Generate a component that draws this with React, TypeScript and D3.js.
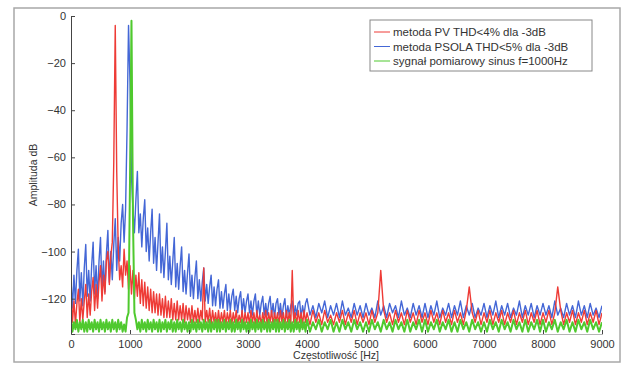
import * as d3 from 'd3';
import React, { useEffect, useRef } from 'react';

// frequency grid: 25 Hz steps up to 4 kHz, then 50 Hz steps
const freqLow = d3.range(0, 4000, 25);
const freqHigh = d3.range(4000, 9001, 50);

const yTicks = [0, -20, -40, -60, -80, -100, -120];
const xTicks = [0, 1000, 2000, 3000, 4000, 5000, 6000, 7000, 8000, 9000];

const legendLabels = [
    'metoda PV THD<4% dla -3dB',
    'metoda PSOLA THD<5% dla -3dB',
    'sygnał pomiarowy sinus f=1000Hz',
];

// metoda PV (red), 0..3975 Hz
const pvLow = [
    -118, -130, -121, -131, -122, -116, -130, -120, -129, -121, -114, -128, -118, -127, -117, -111, -125, -114, -124, -113,
    -106, -121, -110, -118, -104, -100, -114, -102, -96, -62, -4, -66, -98, -112, -106, -115, -99, -110, -104, -116,
    -106, -118, -108, -120, -110, -119, -109, -122, -112, -123, -113, -124, -115, -125, -116, -126, -117, -126, -118, -127,
    -118, -127, -120, -128, -119, -128, -121, -128, -120, -129, -122, -129, -121, -129, -123, -129, -122, -130, -123, -129,
    -124, -130, -123, -130, -125, -130, -124, -130, -125, -129, -107, -130, -125, -130, -124, -131, -125, -130, -126, -131,
    -125, -131, -126, -130, -125, -131, -126, -130, -125, -131, -126, -130, -125, -131, -127, -130, -125, -131, -126, -130,
    -126, -131, -125, -130, -126, -131, -125, -130, -127, -131, -126, -130, -125, -131, -126, -130, -125, -131, -126, -130,
    -126, -131, -125, -130, -126, -131, -125, -130, -126, -131, -108, -130, -126, -131, -125, -130, -126, -131, -125, -130,
];
// metoda PV (red), 4000..9000 Hz
const pvHigh = [
    -126, -131, -125, -130, -126, -131, -125, -130, -127, -131, -126, -130, -125, -131, -126, -130, -125, -131, -126, -130,
    -126, -131, -125, -130, -126, -108, -125, -130, -126, -131, -125, -130, -126, -131, -125, -130, -126, -131, -125, -130,
    -126, -131, -125, -130, -126, -131, -125, -130, -126, -131, -125, -130, -126, -131, -125, -115, -126, -130, -125, -131,
    -126, -130, -125, -131, -126, -130, -125, -131, -126, -130, -125, -131, -126, -130, -125, -131, -126, -130, -125, -131,
    -126, -130, -125, -131, -126, -115, -125, -131, -126, -130, -125, -131, -126, -130, -125, -131, -126, -130, -125, -131,
    -126,
];

// metoda PSOLA (blue), 0..3975 Hz
const psolaLow = [
    -112, -124, -110, -122, -108, -99, -121, -109, -123, -107, -97, -119, -108, -121, -106, -96, -118, -106, -120, -104,
    -94, -116, -104, -117, -101, -91, -113, -100, -112, -97, -86, -108, -94, -104, -88, -80, -96, -82, -48, -4,
    -28, -68, -82, -92, -78, -66, -92, -84, -98, -86, -78, -100, -90, -104, -92, -82, -105, -94, -108, -96,
    -84, -109, -98, -111, -100, -88, -112, -102, -114, -104, -94, -115, -105, -116, -106, -98, -117, -108, -118, -109,
    -101, -119, -110, -120, -111, -104, -120, -112, -121, -113, -107, -121, -114, -122, -115, -110, -123, -115, -123, -116,
    -112, -124, -117, -124, -118, -114, -125, -118, -125, -119, -116, -125, -119, -126, -120, -117, -126, -120, -126, -121,
    -118, -126, -121, -127, -121, -118, -127, -121, -127, -122, -119, -127, -122, -127, -122, -119, -127, -122, -128, -122,
    -120, -127, -122, -128, -123, -120, -128, -123, -127, -123, -121, -128, -123, -127, -122, -121, -128, -123, -127, -122,
];
// metoda PSOLA (blue), 4000..9000 Hz
const psolaHigh = [
    -120, -127, -123, -128, -122, -126, -121, -128, -123, -127, -122, -128, -121, -127, -124, -128, -122, -127, -123, -128,
    -122, -127, -124, -128, -121, -127, -123, -128, -122, -126, -123, -128, -121, -127, -124, -128, -122, -127, -123, -128,
    -122, -128, -123, -127, -121, -128, -124, -127, -122, -128, -123, -127, -121, -128, -123, -127, -122, -128, -124, -127,
    -122, -128, -123, -127, -121, -128, -123, -127, -122, -128, -124, -127, -121, -128, -123, -127, -122, -128, -123, -127,
    -122, -127, -123, -128, -121, -127, -124, -128, -122, -127, -123, -128, -121, -127, -123, -128, -122, -127, -124, -128,
    -123,
];

// sygnał pomiarowy (green), 0..3975 Hz
const sinusLow = [
    -129, -134, -130, -133, -129, -134, -130, -133, -129, -134, -130, -134, -129, -133, -130, -134, -129, -133, -130, -134,
    -129, -133, -130, -134, -129, -133, -130, -134, -129, -133, -130, -134, -129, -133, -130, -134, -131, -134, -128, -126,
    -70, -2, -85, -126, -129, -133, -130, -134, -129, -133, -130, -134, -129, -133, -130, -134, -129, -133, -130, -134,
    -129, -134, -130, -133, -129, -134, -130, -133, -129, -134, -130, -134, -129, -133, -130, -134, -129, -133, -130, -134,
    -130, -134, -129, -133, -130, -134, -129, -133, -130, -134, -129, -133, -130, -134, -129, -134, -130, -133, -129, -134,
    -129, -134, -130, -133, -129, -134, -130, -133, -129, -134, -130, -134, -129, -133, -130, -134, -129, -133, -130, -134,
    -130, -134, -129, -133, -130, -134, -129, -133, -130, -134, -129, -133, -130, -134, -129, -134, -130, -133, -129, -134,
    -129, -134, -130, -133, -129, -134, -130, -133, -129, -134, -130, -134, -129, -133, -130, -134, -129, -133, -130, -134,
];
// sygnał pomiarowy (green), 4000..9000 Hz
const sinusHigh = [
    -129, -134, -130, -133, -129, -134, -130, -133, -129, -134, -130, -134, -129, -133, -130, -134, -129, -133, -130, -134,
    -130, -134, -129, -133, -130, -134, -129, -133, -130, -134, -129, -133, -130, -134, -129, -134, -130, -133, -129, -134,
    -129, -134, -130, -133, -129, -134, -130, -133, -129, -134, -130, -134, -129, -133, -130, -134, -129, -133, -130, -134,
    -130, -134, -129, -133, -130, -134, -129, -133, -130, -134, -129, -133, -130, -134, -129, -134, -130, -133, -129, -134,
    -129, -134, -130, -133, -129, -134, -130, -133, -129, -134, -130, -134, -129, -133, -130, -134, -129, -133, -130, -134,
    -130,
];

const colors = ['#ee3b36', '#4467d6', '#4fc92e'];
const widths = [1.4, 1.4, 2];

const W = 624;
const H = 365;

const App = () => {
    const ref = useRef<SVGSVGElement>(null);

    useEffect(() => {
        const freqs = [...freqLow, ...freqHigh];
        const series = [
            [...pvLow, ...pvHigh],
            [...psolaLow, ...psolaHigh],
            [...sinusLow, ...sinusHigh],
        ];

        const left = 71, right = 602, top = 16, bottom = 334;
        const x = d3.scaleLinear().domain([0, 9000]).range([left, right]);
        const y = d3.scaleLinear().domain([-135, 0]).range([bottom, top]);

        const svg = d3.select(ref.current);
        svg.selectAll('*').remove();

        // outer frame (scan edge)
        svg.append('rect')
            .attr('x', 14).attr('y', 8)
            .attr('width', 606).attr('height', 354)
            .attr('fill', '#fff')
            .attr('stroke', '#a8a8a8')
            .attr('stroke-width', 1.5);

        svg.append('clipPath').attr('id', 'plot-clip')
            .append('rect')
            .attr('x', left).attr('y', top - 2)
            .attr('width', right - left).attr('height', bottom - top + 2);

        const line = d3.line<number>()
            .x((d, i) => x(freqs[i]))
            .y(d => y(d));

        // draw order: PSOLA, PV, then the sine on top
        const order = [1, 0, 2];
        const g = svg.append('g').attr('clip-path', 'url(#plot-clip)');
        order.forEach(k => {
            const vals = series[k].slice(0, freqs.length);
            g.append('path')
                .attr('d', line(vals))
                .attr('fill', 'none')
                .attr('stroke', colors[k])
                .attr('stroke-width', widths[k])
                .attr('stroke-linejoin', 'round');
        });

        // axes
        const axisColor = '#444';
        const yAxis = svg.append('g').attr('transform', `translate(${left},0)`)
            .call(d3.axisLeft(y).tickValues(yTicks).tickSize(-4).tickPadding(5).tickFormat(d3.format('d')));
        const xAxis = svg.append('g').attr('transform', `translate(0,${bottom})`)
            .call(d3.axisBottom(x).tickValues(xTicks).tickSize(-4).tickPadding(6).tickFormat(d3.format('d')));

        [yAxis, xAxis].forEach(a => {
            a.select('.domain').attr('stroke', axisColor);
            a.selectAll('line').attr('stroke', axisColor);
            a.selectAll('text')
                .attr('fill', '#333')
                .style('font-family', 'Liberation Sans, Arial, sans-serif')
                .style('font-size', '11px');
        });
        xAxis.select('.domain').attr('stroke-opacity', 0.4);

        // axis labels
        svg.append('text')
            .attr('x', 336).attr('y', 359)
            .attr('text-anchor', 'middle')
            .attr('fill', '#333')
            .style('font-family', 'Liberation Sans, Arial, sans-serif')
            .style('font-size', '10.5px')
            .text('Częstotliwość [Hz]');

        svg.append('text')
            .attr('transform', 'translate(37,175) rotate(-90)')
            .attr('text-anchor', 'middle')
            .attr('fill', '#333')
            .style('font-family', 'Liberation Sans, Arial, sans-serif')
            .style('font-size', '10.5px')
            .text('Amplituda dB');

        // legend
        const lg = svg.append('g').attr('transform', 'translate(370,20)');
        lg.append('rect')
            .attr('width', 222).attr('height', 51)
            .attr('fill', '#fff')
            .attr('stroke', '#888')
            .attr('stroke-width', 1);
        legendLabels.forEach((label, i) => {
            const ly = 12 + i * 14.5;
            lg.append('line')
                .attr('x1', 4).attr('x2', 20)
                .attr('y1', ly).attr('y2', ly)
                .attr('stroke', colors[i])
                .attr('stroke-width', 1);
            lg.append('text')
                .attr('x', 23).attr('y', ly + 4)
                .attr('fill', '#333')
                .style('font-family', 'Liberation Sans, Arial, sans-serif')
                .style('font-size', '11.5px')
                .text(label);
        });
    }, []);

    return (
        <svg ref={ref} width={W} height={H}
            style={{ position: 'absolute', left: 0, top: 0, background: '#fff' }} />
    );
};

export default App;
